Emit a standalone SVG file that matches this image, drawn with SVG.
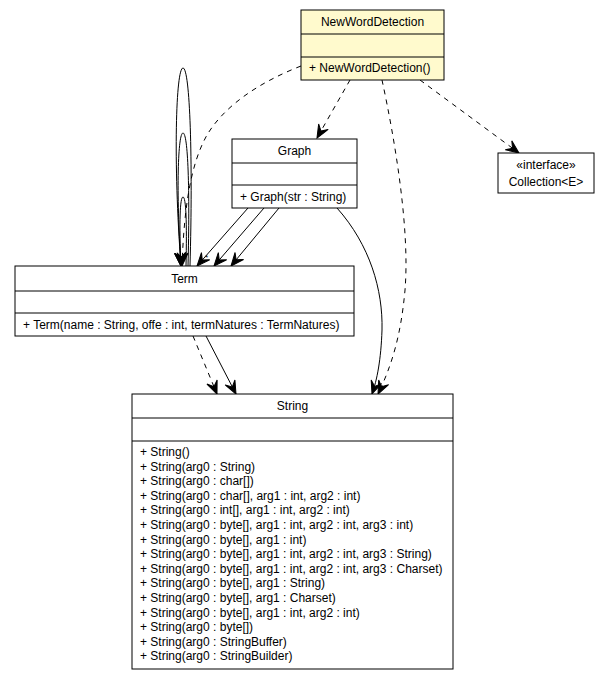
<svg xmlns="http://www.w3.org/2000/svg" width="611" height="680" viewBox="0 0 611 680">
  <style>
    .box { fill: #ffffff; stroke: #000000; stroke-width: 1; }
    .focus { fill: #fffacd; }
    .sep { stroke: #000000; stroke-width: 1; }
    text { font-family: "Liberation Sans", Arial, sans-serif; font-size: 12px; fill: #000000; }
    .c { text-anchor: middle; }
    .edge { fill: none; stroke: #000000; stroke-width: 1; }
    .dep { stroke-dasharray: 5,5; marker-end: url(#open); }
    .nav { marker-end: url(#open); }
    .mult { font-size: 8px; }
  </style>
  <defs>
    <marker id="open" markerUnits="userSpaceOnUse" markerWidth="16" markerHeight="12" refX="0" refY="0" viewBox="-14 -6 16 12" orient="auto" overflow="visible">
      <path d="M0,0 L-13,-5.5 L-8,0 L-13,5.5 Z" fill="#000000" stroke="#000000" stroke-width="1" stroke-linejoin="miter"/>
    </marker>
  </defs>

  <!-- connectors -->
  <g id="edges">
    <!-- Term self associations -->
    <path class="edge nav" d="M190,266 C193,160 190,68 183,68 C176,68 173,160 181,266"/>
    <path class="edge nav" d="M188,266 C190,190 188,133 183,133 C178,133 176,190 181,266"/>
    <path class="edge nav" d="M186,266 C187,222 186,197 183,197 C180,197 179,222 181,266"/>
    <!-- NewWordDetection dependencies -->
    <path class="edge dep" d="M301,66 C260,82 225,105 207,135 C190,165 184,210 182,266"/>
    <path class="edge dep" d="M350,80 L317,138"/>
    <path class="edge dep" d="M382,80 C395,140 410,230 405,290 C401,335 392,365 378,394"/>
    <path class="edge dep" d="M420,80 L519,153"/>
    <!-- Graph associations -->
    <path class="edge nav" d="M248,208 L197,266"/>
    <path class="edge nav" d="M264,208 L214,266"/>
    <path class="edge nav" d="M279,208 L231,266"/>
    <text class="mult" x="205" y="260">*</text>
    <path class="edge nav" d="M337,208 C370,245 383,290 382,330 C381,360 377,380 372,394"/>
    <!-- Term to String -->
    <path class="edge dep" d="M193,336 L217,394"/>
    <path class="edge nav" d="M206,336 L236,394"/>
  </g>

  <g id="NewWordDetection">
    <rect class="box focus" x="301" y="10" width="143" height="70"/>
    <line class="sep" x1="301" y1="34" x2="444" y2="34"/>
    <line class="sep" x1="301" y1="57" x2="444" y2="57"/>
    <text class="c" x="372.5" y="26">NewWordDetection</text>
    <text x="309" y="72">+ NewWordDetection()</text>
  </g>

  <g id="Graph">
    <rect class="box" x="232" y="139" width="125" height="69"/>
    <line class="sep" x1="232" y1="163" x2="357" y2="163"/>
    <line class="sep" x1="232" y1="185" x2="357" y2="185"/>
    <text class="c" x="294.5" y="155">Graph</text>
    <text x="240" y="201">+ Graph(str : String)</text>
  </g>

  <g id="Collection">
    <rect class="box" x="498" y="153" width="96" height="40"/>
    <text class="c" x="546" y="169">«interface»</text>
    <text class="c" x="546" y="186">Collection&lt;E&gt;</text>
  </g>

  <g id="Term">
    <rect class="box" x="15" y="266" width="339" height="70"/>
    <line class="sep" x1="15" y1="291" x2="354" y2="291"/>
    <line class="sep" x1="15" y1="313" x2="354" y2="313"/>
    <text class="c" x="184.5" y="283">Term</text>
    <text x="23" y="329">+ Term(name : String, offe : int, termNatures : TermNatures)</text>
  </g>

  <g id="String">
    <rect class="box" x="132" y="394" width="321" height="275"/>
    <line class="sep" x1="132" y1="418" x2="453" y2="418"/>
    <line class="sep" x1="132" y1="441" x2="453" y2="441"/>
    <text class="c" x="292.5" y="410">String</text>
    <text x="140" y="456">+ String()</text>
    <text x="140" y="470.6">+ String(arg0 : String)</text>
    <text x="140" y="485.2">+ String(arg0 : char[])</text>
    <text x="140" y="499.8">+ String(arg0 : char[], arg1 : int, arg2 : int)</text>
    <text x="140" y="514.4">+ String(arg0 : int[], arg1 : int, arg2 : int)</text>
    <text x="140" y="529">+ String(arg0 : byte[], arg1 : int, arg2 : int, arg3 : int)</text>
    <text x="140" y="543.6">+ String(arg0 : byte[], arg1 : int)</text>
    <text x="140" y="558.2">+ String(arg0 : byte[], arg1 : int, arg2 : int, arg3 : String)</text>
    <text x="140" y="572.8">+ String(arg0 : byte[], arg1 : int, arg2 : int, arg3 : Charset)</text>
    <text x="140" y="587.4">+ String(arg0 : byte[], arg1 : String)</text>
    <text x="140" y="602">+ String(arg0 : byte[], arg1 : Charset)</text>
    <text x="140" y="616.6">+ String(arg0 : byte[], arg1 : int, arg2 : int)</text>
    <text x="140" y="631.2">+ String(arg0 : byte[])</text>
    <text x="140" y="645.8">+ String(arg0 : StringBuffer)</text>
    <text x="140" y="660.4">+ String(arg0 : StringBuilder)</text>
  </g>
</svg>
